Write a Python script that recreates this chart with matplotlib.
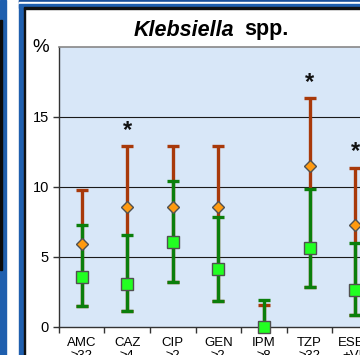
import numpy as np
import matplotlib.pyplot as plt
from matplotlib.patches import Rectangle

plt.rcParams['font.family'] = ['Liberation Sans', 'DejaVu Sans']

drugs = ['AMC', 'CAZ', 'CIP', 'GEN', 'IPM', 'TZP', 'ESBL']
breakpoints = ['\u226532', '\u22654', '\u22652', '\u22652', '\u22658', '\u226532', '+VE']

# orange diamonds with red intervals
est_a = [5.95, 8.56, 8.56, 8.56, 0.0, 11.5, 7.27]
hi_a = [9.8, 12.93, 12.93, 12.93, 1.56, 16.36, 11.38]
# green squares with green intervals
est_b = [3.57, 3.06, 6.08, 4.11, 0.0, 5.65, 2.65]
lo_b = [1.48, 1.15, 3.2, 1.82, 0.0, 2.85, 0.86]
hi_b = [7.25, 6.55, 10.42, 7.84, 1.91, 9.83, 6.0]
lo_a = lo_b
starred = [False, True, False, False, False, True, True]

W, H = 360, 355
fig = plt.figure(figsize=(W / 100, H / 100), dpi=100)

def px(x0, y0, w, h, color):
    # rectangle in pixel units from top-left
    fig.patches.append(Rectangle((x0 / W, 1 - (y0 + h) / H), w / W, h / H,
                                 transform=fig.transFigure, color=color, zorder=0))

# slide frame pieces
px(0, 0, 5.5, H, '#1f5fae')
px(0, 20, 1.5, 250, '#0a0a0a')
px(19, 0, 5, H, '#1f5fae')
px(19, 0, W - 19, 2, '#1a4f9a')
px(19, 2, W - 19, 1.5, '#ffffff')
px(19, 3.5, W - 19, 4, '#1f5fae')
px(23.5, 7.5, W - 23.5, 1.2, '#111111')
px(23.5, 7.5, 1.2, H - 7.5, '#111111')

x = np.arange(len(drugs))
ax = fig.add_axes([58.7 / W, (H - 327) / H, 364.8 / W, (327 - 46.7) / H])
ax.set_facecolor('#d8e7f8')
ax.set_xlim(-0.5, 7.5)
ax.set_ylim(0, 20)

for v in [5, 10, 15]:
    ax.axhline(v, color='#1a1a1a', lw=0.8, zorder=1)

ea, ha = np.array(est_a), np.array(hi_a)
eb, lb, hb = np.array(est_b), np.array(lo_b), np.array(hi_b)
ax.errorbar(x, ea, yerr=[ea - np.array(lo_a), ha - ea], fmt='none', ecolor='#a8390a',
            elinewidth=2.4, capsize=4.5, capthick=2.4, zorder=2, clip_on=False)
ax.errorbar(x, eb, yerr=[eb - lb, hb - eb], fmt='none', ecolor='#0b7f0b',
            elinewidth=2.4, capsize=4.5, capthick=2.4, zorder=3, clip_on=False)
ax.plot(x, ea, 'D', ms=6.5, mfc='#ff9a10', mec='#505050', mew=1, zorder=4, clip_on=False)
ax.plot(x, eb, 's', ms=8.5, mfc='#22ff22', mec='#505050', mew=1, zorder=5, clip_on=False)

for xi, top, s in zip(x, hi_a, starred):
    if s:
        ax.annotate('*', (xi, top), xytext=(0, 3), textcoords='offset points',
                    ha='center', va='bottom', fontsize=17, fontweight='bold', color='#111111')

ax.set_yticks([0, 5, 10, 15])
ax.tick_params(axis='y', length=4, width=1, color='#333333', labelsize=10.5, pad=3)
ax.set_xticks(x)
ax.set_xticklabels([d + '\n' + b for d, b in zip(drugs, breakpoints)], fontsize=9.5,
                   linespacing=1.1)
ax.tick_params(axis='x', length=0, pad=7)
ax.set_xticks(np.arange(-0.5, 8, 1), minor=True)
ax.tick_params(axis='x', which='minor', length=4, width=1, color='#333333')

for side in ['left', 'bottom']:
    ax.spines[side].set_color('#333333')
    ax.spines[side].set_linewidth(1)
ax.spines['top'].set_color('#888888')
ax.spines['top'].set_linewidth(1.2)
ax.spines['right'].set_visible(False)

fig.text(41 / W, 1 - 48 / H, '%', ha='center', va='center', fontsize=13.5)
fig.text(234 / W, 1 - 35.5 / H, 'Klebsiella', ha='right', va='baseline',
         fontsize=15.5, fontweight='bold', fontstyle='italic')
fig.text(244 / W, 1 - 35.5 / H, 'spp.', ha='left', va='baseline',
         fontsize=15.5, fontweight='bold')

fig.savefig('out.png', dpi=100)
